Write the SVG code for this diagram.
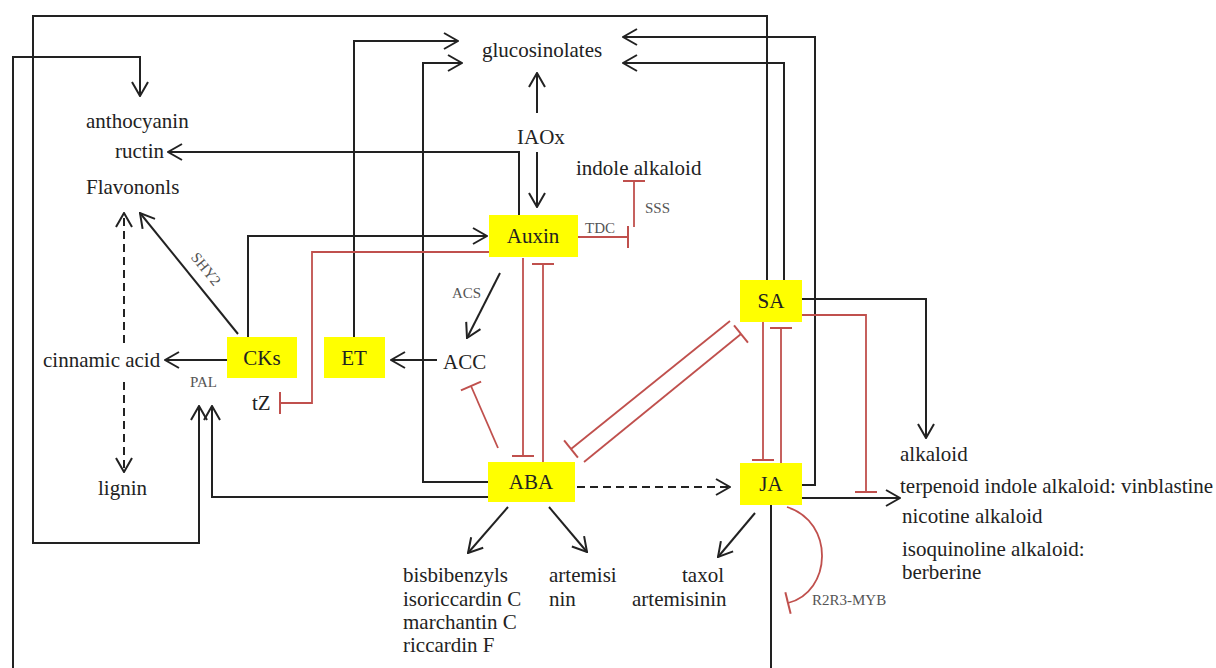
<svg xmlns="http://www.w3.org/2000/svg" width="1216" height="668" viewBox="0 0 1216 668">
<style>
.t{font-family:"Liberation Serif",serif;font-size:21px;fill:#222}
.c{text-anchor:middle}
.s{font-family:"Liberation Serif",serif;font-size:15px;fill:#555}
.box{fill:#ffff00}
.k{stroke:#222;stroke-width:2;fill:none}
.r{stroke:#c0504d;stroke-width:1.8;fill:none}
.d{stroke-dasharray:8 5}
</style>
<defs>
<marker id="ah" markerWidth="16" markerHeight="18" refX="15" refY="9" orient="auto" markerUnits="userSpaceOnUse"><path d="M1,1 L15,9 L1,17" fill="none" stroke="#222" stroke-width="2"/></marker>
<marker id="bar" markerWidth="4" markerHeight="24" refX="2" refY="12" orient="auto" markerUnits="userSpaceOnUse"><path d="M2,1 V23" stroke="#c0504d" stroke-width="2"/></marker>
</defs>
<rect width="1216" height="668" fill="#fff"/>
<g id="connectors">
<path class="k" marker-end="url(#ah)" d="M767,280 V16 H33 V543 H199 V406"/>
<path class="k" marker-end="url(#ah)" d="M488,497 H212 V406"/>
<path class="k" marker-end="url(#ah)" d="M771,505 V672 H13 V57 H140 V96"/>
<path class="k" marker-end="url(#ah)" d="M519,215 V152 H168"/>
<path class="k" marker-end="url(#ah)" d="M354,337 V41 H458"/>
<path class="k" marker-end="url(#ah)" d="M488,482 H423 V63 H462"/>
<path class="k" marker-end="url(#ah)" d="M784,280 V63 H623"/>
<path class="k" marker-end="url(#ah)" d="M802,485 H815 V37 H623"/>
<path class="k" marker-end="url(#ah)" d="M537,113 V73"/>
<path class="k" marker-end="url(#ah)" d="M537,152 V207"/>
<path class="k" marker-end="url(#ah)" d="M248,337 V236 H487"/>
<path class="k" marker-end="url(#ah)" d="M238,334 L140,213"/>
<path class="k d" marker-end="url(#ah)" d="M124,343 V213"/>
<path class="k d" marker-end="url(#ah)" d="M124,382 V472"/>
<path class="k" marker-end="url(#ah)" d="M227,360 H165"/>
<path class="k" marker-end="url(#ah)" d="M437,360 H391"/>
<path class="k" marker-end="url(#ah)" d="M500,273 L467,338"/>
<path class="k d" marker-end="url(#ah)" d="M577,487 H730"/>
<path class="k" marker-end="url(#ah)" d="M508,507 L468,553"/>
<path class="k" marker-end="url(#ah)" d="M549,507 L587,552"/>
<path class="k" marker-end="url(#ah)" d="M755,513 L718,557"/>
<path class="k" marker-end="url(#ah)" d="M802,299 H926 V438"/>
<path class="k" marker-end="url(#ah)" d="M802,498 H900"/>
<path class="r" marker-end="url(#bar)" d="M489,252 H312 V403 H280"/>
<path class="r" marker-end="url(#bar)" d="M578,237 H628"/>
<path class="r" marker-end="url(#bar)" d="M634,227 V181"/>
<path class="r" marker-end="url(#bar)" d="M498,448 L471,386"/>
<path class="r" marker-end="url(#bar)" d="M523,258 V456"/>
<path class="r" marker-end="url(#bar)" d="M543,462 V264"/>
<path class="r" marker-end="url(#bar)" d="M730,321 L571,449"/>
<path class="r" marker-end="url(#bar)" d="M584,462 L741,334"/>
<path class="r" marker-end="url(#bar)" d="M763,322 V460"/>
<path class="r" marker-end="url(#bar)" d="M781,463 V328"/>
<path class="r" marker-end="url(#bar)" d="M802,315 H866 V492"/>
<path class="r" marker-end="url(#bar)" d="M787,507 C835,522 832,592 788,603"/>
</g>
<g id="labels">
<text class="s" x="585" y="233">TDC</text>
<text class="s" x="645" y="213">SSS</text>
<text class="s" x="452" y="298">ACS</text>
<text class="s" x="190" y="387">PAL</text>
<text class="s" x="812" y="605">R2R3-MYB</text>
<text class="s" transform="translate(206,269) rotate(51)" text-anchor="middle" dy="5">SHY2</text>
</g>
<g id="Auxin"><rect class="box" x="489" y="215" width="89" height="42"/><text class="t c" x="533" y="243">Auxin</text></g>
<g id="CKs"><rect class="box" x="227" y="337" width="70" height="41"/><text class="t c" x="262" y="365">CKs</text></g>
<g id="ET"><rect class="box" x="324" y="337" width="61" height="41"/><text class="t c" x="354" y="365">ET</text></g>
<g id="SA"><rect class="box" x="740" y="280" width="62" height="42"/><text class="t c" x="771" y="308">SA</text></g>
<g id="ABA"><rect class="box" x="488" y="462" width="87" height="40"/><text class="t c" x="531" y="489">ABA</text></g>
<g id="JA"><rect class="box" x="740" y="463" width="62" height="42"/><text class="t c" x="771" y="491">JA</text></g>
<g id="anthocyanin"><text class="t" x="86" y="128">anthocyanin</text></g>
<g id="ructin"><text class="t" x="115" y="158">ructin</text></g>
<g id="Flavononls"><text class="t" x="86" y="194">Flavononls</text></g>
<g id="glucosinolates"><text class="t" x="482" y="57">glucosinolates</text></g>
<g id="IAOx"><text class="t" x="517" y="144">IAOx</text></g>
<g id="indole-alkaloid"><text class="t" x="576" y="175">indole alkaloid</text></g>
<g id="cinnamic-acid"><text class="t" x="43" y="367">cinnamic acid</text></g>
<g id="lignin"><text class="t" x="98" y="495">lignin</text></g>
<g id="tZ"><text class="t" x="252" y="410">tZ</text></g>
<g id="ACC"><text class="t" x="443" y="369">ACC</text></g>
<g id="alkaloids">
<text class="t" x="900" y="461">alkaloid</text>
<text class="t" x="900" y="493">terpenoid indole alkaloid: vinblastine</text>
<text class="t" x="902" y="523">nicotine alkaloid</text>
<text class="t" x="902" y="556">isoquinoline alkaloid:</text>
<text class="t" x="902" y="579">berberine</text>
</g>
<g id="bisbibenzyls">
<text class="t" x="403" y="582">bisbibenzyls</text>
<text class="t" x="403" y="606">isoriccardin C</text>
<text class="t" x="403" y="629">marchantin C</text>
<text class="t" x="403" y="652">riccardin F</text>
</g>
<g id="artemisinin-ABA"><text class="t" x="549" y="582">artemisi</text><text class="t" x="549" y="606">nin</text></g>
<g id="taxol"><text class="t" x="682" y="582">taxol</text><text class="t" x="632" y="606">artemisinin</text></g>
</svg>
